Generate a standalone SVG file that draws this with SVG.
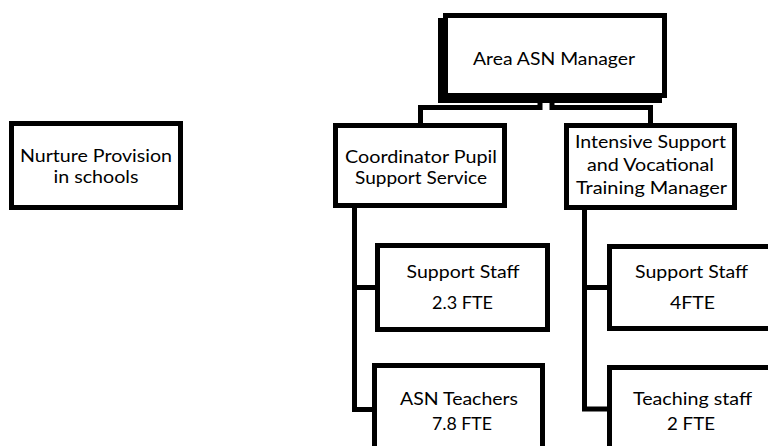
<svg xmlns="http://www.w3.org/2000/svg" width="768" height="446" viewBox="0 0 768 446">
<style>
.box{fill:#fff;stroke:#000;stroke-width:5}
.sh{fill:#000}
.t{font-family:Lato,"Open Sans","Liberation Sans",sans-serif;font-size:18px;fill:#000;text-anchor:middle}
.c{fill:none;stroke:#000;stroke-width:5;stroke-linejoin:miter}
</style>
<rect width="768" height="446" fill="#fff"/>
<g id="connectors">
<path class="c" d="M540,100 V107.5 H420.5 V125"/>
<path class="c" d="M552,100 V107.5 H650.5 V125"/>
<path class="c" d="M354.5,206 V409.5 H375"/>
<path class="c" d="M354.5,287.5 H378"/>
<path class="c" d="M584.5,208 V409 H610"/>
<path class="c" d="M584.5,287.5 H610"/>
</g>
<g id="nurture">
<rect class="box" x="11.5" y="123.5" width="169" height="84"/>
<text class="t" x="96" y="162" textLength="152" lengthAdjust="spacingAndGlyphs">Nurture Provision</text>
<text class="t" x="96" y="183" textLength="85" lengthAdjust="spacingAndGlyphs">in schools</text>
</g>
<g id="area-asn-manager">
<rect class="sh" x="438" y="18" width="224" height="85"/>
<rect class="box" x="445.5" y="15.5" width="219" height="80"/>
<text class="t" x="554" y="65" textLength="162" lengthAdjust="spacingAndGlyphs">Area ASN Manager</text>
</g>
<g id="coordinator">
<rect class="box" x="335.5" y="125.5" width="169" height="80"/>
<text class="t" x="421" y="163" textLength="152" lengthAdjust="spacingAndGlyphs">Coordinator Pupil</text>
<text class="t" x="421" y="184" textLength="132" lengthAdjust="spacingAndGlyphs">Support Service</text>
</g>
<g id="intensive">
<rect class="box" x="566.5" y="125.5" width="168" height="82"/>
<text class="t" x="650.5" y="148" textLength="151" lengthAdjust="spacingAndGlyphs">Intensive Support</text>
<text class="t" x="650.5" y="171" textLength="127" lengthAdjust="spacingAndGlyphs">and Vocational</text>
<text class="t" x="651.5" y="194" textLength="151" lengthAdjust="spacingAndGlyphs">Training Manager</text>
</g>
<g id="support-staff-left">
<rect class="box" x="377.5" y="245.5" width="170" height="84"/>
<text class="t" x="463" y="278" textLength="113" lengthAdjust="spacingAndGlyphs">Support Staff</text>
<text class="t" x="462.5" y="309" textLength="61" lengthAdjust="spacingAndGlyphs">2.3 FTE</text>
</g>
<g id="asn-teachers">
<rect class="box" x="374.5" y="365.5" width="168" height="100"/>
<text class="t" x="459" y="405" textLength="118" lengthAdjust="spacingAndGlyphs">ASN Teachers</text>
<text class="t" x="462" y="430" textLength="60" lengthAdjust="spacingAndGlyphs">7.8 FTE</text>
</g>
<g id="support-staff-right">
<rect class="box" x="609.5" y="246.5" width="170" height="82"/>
<text class="t" x="691.5" y="278" textLength="113" lengthAdjust="spacingAndGlyphs">Support Staff</text>
<text class="t" x="692.5" y="309" textLength="45" lengthAdjust="spacingAndGlyphs">4FTE</text>
</g>
<g id="teaching-staff">
<rect class="box" x="609.5" y="367.5" width="170" height="100"/>
<text class="t" x="692.5" y="405" textLength="119" lengthAdjust="spacingAndGlyphs">Teaching staff</text>
<text class="t" x="691" y="430" textLength="48" lengthAdjust="spacingAndGlyphs">2 FTE</text>
</g>
</svg>
